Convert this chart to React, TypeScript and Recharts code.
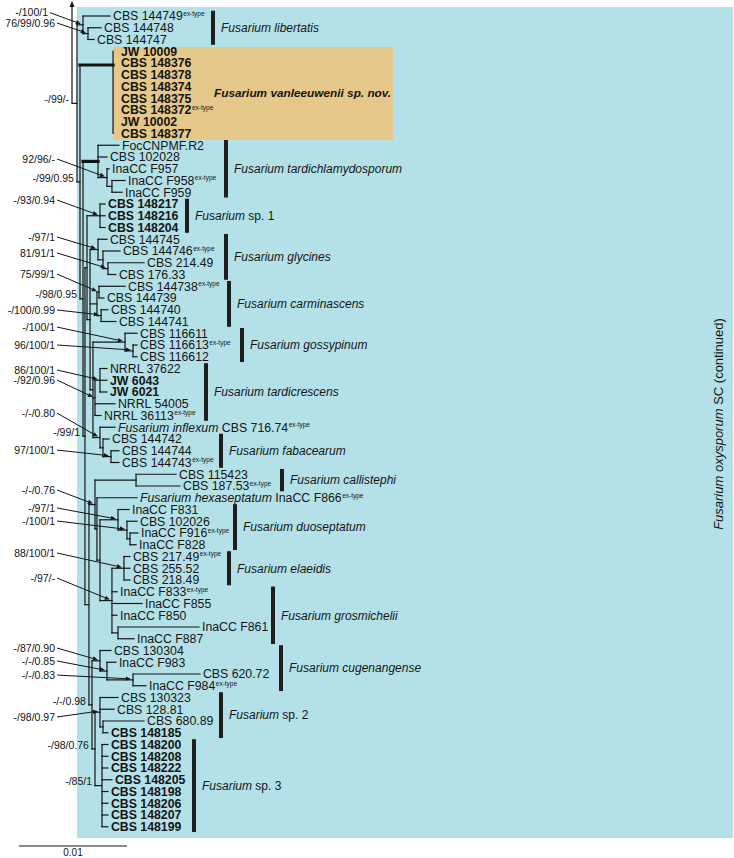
import React from "react";
import {
  ComposedChart,
  XAxis,
  YAxis,
  Scatter,
  ReferenceLine,
  ReferenceArea,
} from "recharts";

// ---- layout ----
const W = 734;
const H = 858;
const ROOT_PX = 72; // root of the tree, px
const PX_PER_UNIT = 10.8; // px per 0.001 substitutions/site
const ROW0_PX = 16;
const ROW_PX = 11.75;
const X_DOMAIN = [-ROOT_PX / PX_PER_UNIT, (W - ROOT_PX) / PX_PER_UNIT];
const Y_DOMAIN = [-ROW0_PX / ROW_PX, (H - ROW0_PX) / ROW_PX];
const px2x = (px: number) => (px - ROOT_PX) / PX_PER_UNIT;
const px2y = (py: number) => (py - ROW0_PX) / ROW_PX;

const FONT = "'Liberation Sans', Arial, sans-serif";
const INK = "#141414";
const BLUE = "#b4e1e8";
const SAND = "#e6c88a";

// ---- data: tips (top to bottom), depth in 0.001 subs/site ----
const TIP_LABELS = [
  "CBS 144749", "CBS 144748", "CBS 144747",
  "JW 10009", "CBS 148376", "CBS 148378", "CBS 148374", "CBS 148375", "CBS 148372", "JW 10002", "CBS 148377",
  "FocCNPMF.R2", "CBS 102028", "InaCC F957", "InaCC F958", "InaCC F959",
  "CBS 148217", "CBS 148216", "CBS 148204",
  "CBS 144745", "CBS 144746", "CBS 214.49", "CBS 176.33",
  "CBS 144738", "CBS 144739", "CBS 144740", "CBS 144741",
  "CBS 116611", "CBS 116613", "CBS 116612",
  "NRRL 37622", "JW 6043", "JW 6021", "NRRL 54005", "NRRL 36113",
  "CBS 716.74", "CBS 144742", "CBS 144744", "CBS 144743",
  "CBS 115423", "CBS 187.53", "InaCC F866",
  "InaCC F831", "CBS 102026", "InaCC F916", "InaCC F828",
  "CBS 217.49", "CBS 255.52", "CBS 218.49",
  "InaCC F833", "InaCC F855", "InaCC F850", "InaCC F861", "InaCC F887",
  "CBS 130304", "InaCC F983", "CBS 620.72", "InaCC F984",
  "CBS 130323", "CBS 128.81", "CBS 680.89", "CBS 148185",
  "CBS 148200", "CBS 148208", "CBS 148222", "CBS 148205", "CBS 148198", "CBS 148206", "CBS 148207", "CBS 148199",
];

const TIP_DEPTHS = [
  3.52, 2.69, 2.04,
  3.8, 3.8, 3.8, 3.8, 3.8, 3.8, 3.8, 3.8,
  4.35, 3.24, 3.43, 4.91, 4.63,
  3.06, 3.06, 3.06,
  3.24, 4.44, 6.67, 4.07,
  4.91, 2.96, 3.33, 4.07,
  6.02, 6.02, 6.02,
  3.24, 3.24, 3.24, 3.98, 2.69,
  3.98, 3.43, 4.35, 4.35,
  9.63, 10.0, 6.02,
  5.28, 6.02, 6.11, 5.93,
  5.37, 5.37, 5.37,
  4.17, 6.48, 4.17, 11.76, 5.74,
  3.61, 4.07, 11.85, 6.85,
  4.26, 3.89, 6.67, 3.33,
  3.33, 3.33, 3.33, 3.7, 3.33, 3.33, 3.33, 3.33,
];

const BOLD_TIPS = [
  "JW 10009", "CBS 148376", "CBS 148378", "CBS 148374", "CBS 148375", "CBS 148372", "JW 10002", "CBS 148377",
  "CBS 148217", "CBS 148216", "CBS 148204", "JW 6043", "JW 6021",
  "CBS 148185", "CBS 148200", "CBS 148208", "CBS 148222", "CBS 148205", "CBS 148198", "CBS 148206", "CBS 148207", "CBS 148199",
];

const EX_TYPE_TIPS = [
  "CBS 144749", "CBS 148372", "InaCC F958", "CBS 144746", "CBS 144738", "CBS 116613", "NRRL 36113",
  "CBS 716.74", "CBS 144743", "CBS 187.53", "InaCC F866", "InaCC F916", "CBS 217.49", "InaCC F833", "InaCC F984",
];

const TIP_PREFIX: Record<string, string> = {
  "CBS 716.74": "Fusarium inflexum",
  "InaCC F866": "Fusarium hexaseptatum",
};

// internal nodes: id, depth, children (tip index or node id), bottom-up
type Child = number | string;
const NODES: [string, number, Child[]][] = [
  ["L2", 1.48, [1, 2]],
  ["L1", 1.02, [0, "L2"]],
  ["V", 3.8, [3, 4, 5, 6, 7, 8, 9, 10]],
  ["Ti2", 3.7, [14, 15]],
  ["Ti", 3.24, [13, "Ti2"]],
  ["T", 2.41, [11, 12, "Ti"]],
  ["S1", 2.59, [16, 17, 18]],
  ["G3", 3.33, [21, 22]],
  ["G2", 2.87, [20, "G3"]],
  ["G", 2.41, [19, "G2"]],
  ["C1", 2.5, [23, 24]],
  ["C2", 2.69, [25, 26]],
  ["C", 2.31, ["C1", "C2"]],
  ["Go2", 5.65, [28, 29]],
  ["Go", 4.91, [27, "Go2"]],
  ["Tc1", 2.59, [30, 31, 32]],
  ["Tc", 2.13, ["Tc1", 33, 34]],
  ["Fa2", 3.61, [37, 38]],
  ["Fa", 2.87, [36, "Fa2"]],
  ["If", 2.59, [35, "Fa"]],
  ["U3", 1.94, ["Go", "Tc", "If"]],
  ["U2", 1.67, ["G", "C", "U3"]],
  ["U", 1.39, ["S1", "U2"]],
  ["Ca", 5.93, [39, 40]],
  ["D3", 5.37, [44, 45]],
  ["D2", 5.09, [43, "D3"]],
  ["D", 4.26, [42, "D2"]],
  ["El", 4.81, [46, 47, 48]],
  ["Gr2", 4.26, [52, 53]],
  ["Gr", 3.7, ["El", 49, 50, 51, "Gr2"]],
  ["M1", 2.59, ["D", "Gr"]],
  ["M3", 2.31, [41, "M1"]],
  ["M2", 2.13, ["Ca", "M3"]],
  ["Cu3", 5.65, [56, 57]],
  ["Cu2", 3.24, [55, "Cu3"]],
  ["Cu", 2.59, [54, "Cu2"]],
  ["S2b", 2.87, [60, 61]],
  ["S2", 2.59, [58, 59, "S2b"]],
  ["S3", 2.78, [62, 63, 64, 65, 66, 67, 68, 69]],
  ["P", 2.13, ["S2", "S3"]],
  ["Q", 1.85, ["Cu", "P"]],
  ["L", 1.57, ["M2", "Q"]],
  ["N3", 1.2, ["U", "L"]],
  ["N2", 1.02, ["T", "N3"]],
  ["N1", 0.74, ["V", "N2"]],
  ["N0", 0.46, ["L1", "N1"]],
];
const STEM_ROW: Record<string, number> = { V: 4.17 };
const THICK_STEMS = ["V", "T"];

// support values: [text, node, label row] (with arrows)
const SUPPORT_ARROWS: [string, string, number][] = [
  ["-/100/1", "L1", -0.28],
  ["76/99/0.96", "L2", 0.6],
  ["92/96/-", "Ti", 12.17],
  ["-/93/0.94", "S1", 15.66],
  ["-/97/1", "G", 18.81],
  ["81/91/1", "G3", 20.17],
  ["75/99/1", "C1", 21.96],
  ["-/100/0.99", "C2", 25.02],
  ["-/100/1", "Go", 26.47],
  ["96/100/1", "Go2", 28.0],
  ["86/100/1", "Tc1", 30.13],
  ["-/92/0.96", "Tc", 30.98],
  ["-/-/0.80", "If", 33.79],
  ["97/100/1", "Fa2", 36.94],
  ["-/-/0.76", "M2", 40.34],
  ["-/97/1", "D", 41.87],
  ["-/100/1", "D2", 42.98],
  ["88/100/1", "El", 45.7],
  ["-/97/-", "Gr", 47.83],
  ["-/87/0.90", "Cu", 53.79],
  ["-/-/0.85", "Cu2", 54.89],
  ["-/-/0.83", "Cu3", 56.09],
  ["-/98/0.97", "S2", 59.66],
];
// support values written beside the stem
const SUPPORT_PLAIN: [string, string][] = [
  ["-/99/-", "N0"],
  ["-/99/0.95", "N1"],
  ["-/98/0.95", "N2"],
  ["-/99/1", "N3"],
  ["-/-/0.98", "Q"],
  ["-/98/0.76", "P"],
  ["-/85/1", "S3"],
];

// clades: [italic name, plain suffix, first tip, last tip]
const CLADES: [string, string, number, number][] = [
  ["Fusarium libertatis", "", 0, 2],
  ["Fusarium vanleeuwenii sp. nov.", "", 3, 10],
  ["Fusarium tardichlamydosporum", "", 11, 15],
  ["Fusarium", " sp. 1", 16, 18],
  ["Fusarium glycines", "", 19, 22],
  ["Fusarium carminascens", "", 23, 26],
  ["Fusarium gossypinum", "", 27, 29],
  ["Fusarium tardicrescens", "", 30, 34],
  ["Fusarium fabacearum", "", 36, 38],
  ["Fusarium callistephi", "", 39, 40],
  ["Fusarium duoseptatum", "", 42, 45],
  ["Fusarium elaeidis", "", 46, 48],
  ["Fusarium grosmichelii", "", 49, 53],
  ["Fusarium cugenangense", "", 54, 57],
  ["Fusarium", " sp. 2", 58, 61],
  ["Fusarium", " sp. 3", 62, 69],
];
// clade bar position, px (0 = no bar)
const CLADE_BAR_PX = [213, 0, 226, 187, 226, 229, 242, 206, 221, 282, 235, 229, 273, 281, 221, 194];
const NEW_SPECIES_LABEL_PX = 214;
const SCALE_UNITS = 10; // 0.01 subs/site

// ---- tree geometry from data ----
const nodeMap = new Map(NODES.map((n) => [n[0], n]));
const parentOf = new Map<Child, string>();
NODES.forEach(([id, , kids]) => kids.forEach((k) => parentOf.set(k, id)));
const placed = new Map<string, { x: number; y: number }>();
const place = (c: Child): { x: number; y: number } => {
  if (typeof c === "number") return { x: TIP_DEPTHS[c], y: c };
  const hit = placed.get(c);
  if (hit) return hit;
  const [, depth, kids] = nodeMap.get(c)!;
  const ys = kids.map((k) => place(k).y);
  const p = { x: depth, y: STEM_ROW[c] ?? (ys[0] + ys[ys.length - 1]) / 2 };
  placed.set(c, p);
  return p;
};
NODES.forEach((n) => place(n[0]));

type Seg = { x1: number; y1: number; x2: number; y2: number; thick: boolean };
const branches: Seg[] = [];
NODES.forEach(([id, depth, kids]) => {
  const ys = kids.map((k) => place(k).y);
  branches.push({ x1: depth, y1: ys[0], x2: depth, y2: ys[ys.length - 1], thick: false });
  kids.forEach((k) => {
    const p = place(k);
    if (p.x - depth > 1e-6)
      branches.push({ x1: depth, y1: p.y, x2: p.x, y2: p.y, thick: THICK_STEMS.includes(String(k)) });
  });
});
const rootNode = place("N0");
branches.push({ x1: 0, y1: rootNode.y, x2: rootNode.x, y2: rootNode.y, thick: false });

const tipData = TIP_LABELS.map((name, i) => {
  const parent = place(parentOf.get(i)!);
  return {
    x: TIP_DEPTHS[i],
    y: i,
    name,
    bold: BOLD_TIPS.includes(name),
    ex: EX_TYPE_TIPS.includes(name),
    prefix: TIP_PREFIX[name],
    zero: Math.abs(TIP_DEPTHS[i] - parent.x) < 1e-6,
  };
});

const plainSupportData = SUPPORT_PLAIN.map(([text, id]) => {
  const par = parentOf.get(id);
  return { x: par ? place(par).x : 0, y: place(id).y, text };
});

const cladeData = CLADES.map(([it, rest, a, b], i) => ({
  x: px2x((CLADE_BAR_PX[i] || NEW_SPECIES_LABEL_PX - 8) + 8),
  y: (a + b) / 2,
  it,
  rest,
  isNew: CLADE_BAR_PX[i] === 0,
}));

// ---- shapes ----
const arrowHead = (x1: number, y1: number, x2: number, y2: number, len = 5, half = 2.2) => {
  const a = Math.atan2(y2 - y1, x2 - x1);
  const bx = x2 - len * Math.cos(a);
  const by = y2 - len * Math.sin(a);
  const s = Math.sin(a);
  const c = Math.cos(a);
  return {
    bx,
    by,
    pts: `${x2},${y2} ${bx - half * s},${by + half * c} ${bx + half * s},${by - half * c}`,
  };
};

const supportArrow = (text: string) => (p: any) => {
  const { x1, y1, x2, y2 } = p;
  const h = arrowHead(x1, y1, x2, y2);
  return (
    <g>
      <line x1={x1} y1={y1} x2={h.bx} y2={h.by} stroke={INK} strokeWidth={1} />
      <polygon points={h.pts} fill={INK} />
      <text x={x1 - 2} y={y1} dy="0.35em" textAnchor="end" fontSize={10.5} fontFamily={FONT} fill={INK}>
        {text}
      </text>
    </g>
  );
};

const rootArrow = (p: any) => {
  const { x1, y1, x2, y2 } = p;
  const h = arrowHead(x1, y1, x2, y2, 6, 2.5);
  return (
    <g>
      <line x1={x1} y1={y1} x2={h.bx} y2={h.by} stroke={INK} strokeWidth={1.2} />
      <polygon points={h.pts} fill={INK} />
    </g>
  );
};

const scaleBar = (p: any) => {
  const { x1, y1, x2, y2 } = p;
  return (
    <g>
      <line x1={x1} y1={y1} x2={x2} y2={y2} stroke={INK} strokeWidth={1.2} />
      <text x={(x1 + x2) / 2} y={y1 + 9.5} textAnchor="middle" fontSize={10} fontFamily={FONT} fill={INK}>
        0.01
      </text>
    </g>
  );
};

const TipLabel = (p: any) => {
  const { cx, cy, payload } = p;
  return (
    <text
      x={cx + (payload.zero ? 8 : 3)}
      y={cy}
      dy="0.36em"
      fontSize={12.3}
      fontFamily={FONT}
      fontWeight={payload.bold ? 700 : 400}
      fill={INK}
    >
      {payload.prefix && <tspan fontStyle="italic">{payload.prefix} </tspan>}
      {payload.name}
      {payload.ex && (
        <tspan fontSize={6.5} dx={0.5} dy={-4.5} fontWeight={400}>
          ex-type
        </tspan>
      )}
    </text>
  );
};

const PlainSupport = (p: any) => {
  const { cx, cy, payload } = p;
  return (
    <text x={cx - 3} y={cy - 4} dy="0.35em" textAnchor="end" fontSize={10.5} fontFamily={FONT} fill={INK}>
      {payload.text}
    </text>
  );
};

const CladeLabel = (p: any) => {
  const { cx, cy, payload } = p;
  return (
    <text
      x={cx}
      y={cy}
      dy="0.36em"
      fontSize={payload.isNew ? 11.8 : 12}
      fontFamily={FONT}
      fontWeight={payload.isNew ? 700 : 400}
      fill={INK}
    >
      <tspan fontStyle="italic">{payload.it}</tspan>
      {payload.rest}
    </text>
  );
};

const SideTitle = (p: any) => {
  const { cx, cy } = p;
  return (
    <text
      x={cx}
      y={cy}
      dy="0.35em"
      textAnchor="middle"
      transform={`rotate(-90 ${cx} ${cy})`}
      fontSize={13}
      fontFamily={FONT}
      fill={INK}
    >
      <tspan fontStyle="italic">Fusarium oxysporum</tspan> SC (continued)
    </text>
  );
};

const App: React.FC = () => {
  const vNode = place("V");
  return (
    <div style={{ position: "absolute", left: 0, top: 0, width: W, height: H, background: "#fff" }}>
      <ComposedChart width={W} height={H} margin={{ top: 0, right: 0, bottom: 0, left: 0 }}>
        <XAxis type="number" dataKey="x" domain={X_DOMAIN} allowDataOverflow hide />
        <YAxis type="number" dataKey="y" domain={Y_DOMAIN} allowDataOverflow reversed hide />

        <ReferenceArea
          x1={px2x(77)}
          x2={px2x(733)}
          y1={px2y(7)}
          y2={px2y(838)}
          fill={BLUE}
          fillOpacity={1}
          stroke="none"
        />
        <ReferenceArea
          x1={vNode.x}
          x2={px2x(393)}
          y1={px2y(47)}
          y2={px2y(140)}
          fill={SAND}
          fillOpacity={1}
          stroke="none"
        />

        {branches.map((b, i) => (
          <ReferenceLine
            key={`br-${i}`}
            segment={[
              { x: b.x1, y: b.y1 },
              { x: b.x2, y: b.y2 },
            ]}
            stroke={INK}
            strokeWidth={b.thick ? 3.2 : 1.2}
            strokeLinecap="square"
          />
        ))}

        <ReferenceLine
          segment={[
            { x: 0, y: rootNode.y },
            { x: 0, y: px2y(1) },
          ]}
          shape={rootArrow}
        />

        {CLADES.map(([, , a, b], i) =>
          CLADE_BAR_PX[i] ? (
            <ReferenceLine
              key={`bar-${i}`}
              segment={[
                { x: px2x(CLADE_BAR_PX[i]), y: a - 0.45 },
                { x: px2x(CLADE_BAR_PX[i]), y: b + 0.45 },
              ]}
              stroke="#1e1e1e"
              strokeWidth={4}
            />
          ) : null
        )}

        {SUPPORT_ARROWS.map(([text, id, row], i) => {
          const n = place(id);
          const startPx = id === "L1" ? 50 : 57;
          return (
            <ReferenceLine
              key={`sa-${i}`}
              segment={[
                { x: px2x(startPx), y: row },
                { x: n.x - 0.2, y: n.y - 0.08 },
              ]}
              shape={supportArrow(text)}
            />
          );
        })}

        <ReferenceLine
          segment={[
            { x: px2x(19), y: px2y(846) },
            { x: px2x(19) + SCALE_UNITS, y: px2y(846) },
          ]}
          shape={scaleBar}
        />

        <Scatter data={tipData} shape={TipLabel} isAnimationActive={false} />
        <Scatter data={plainSupportData} shape={PlainSupport} isAnimationActive={false} />
        <Scatter data={cladeData} shape={CladeLabel} isAnimationActive={false} />
        <Scatter data={[{ x: px2x(718), y: px2y(424) }]} shape={SideTitle} isAnimationActive={false} />
      </ComposedChart>
    </div>
  );
};

export default App;
